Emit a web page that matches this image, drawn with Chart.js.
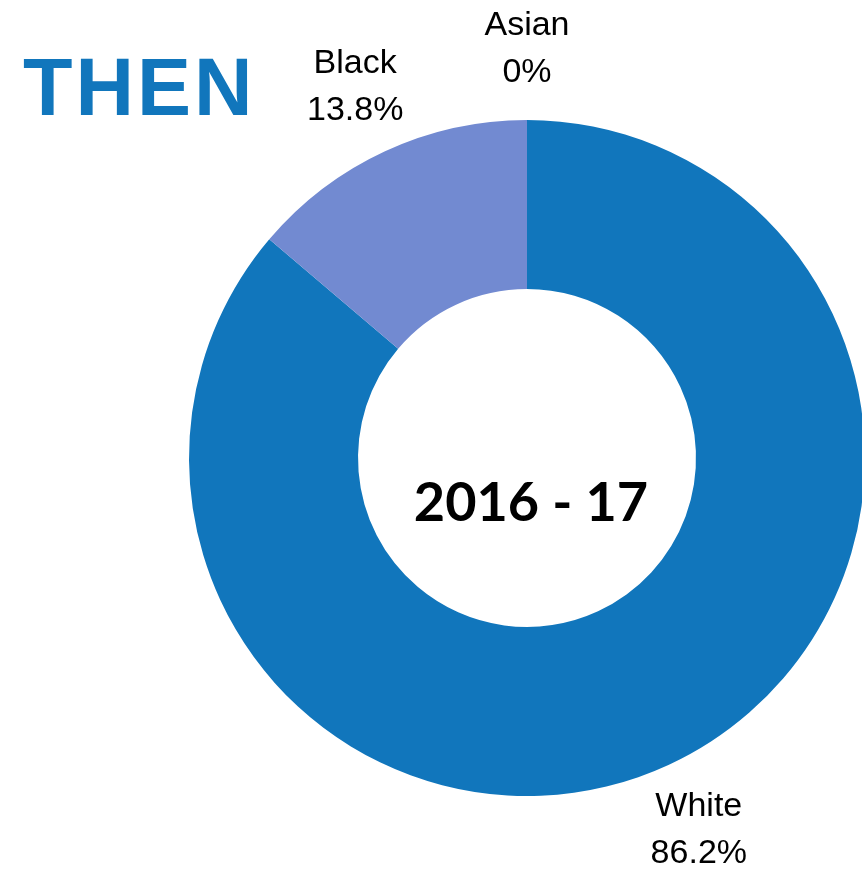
<!DOCTYPE html>
<html>
<head>
<meta charset="utf-8">
<script src="https://cdn.jsdelivr.net/npm/chart.js@4"></script>
<style>
    html, body { margin: 0; padding: 0; background: #fff; overflow: hidden; width: 862px; height: 872px; }
    #title {
        position: absolute; left: 23px; top: 41px;
        font-family: "Liberation Sans", Arial, sans-serif; font-weight: bold;
        font-size: 81px; color: #1176bc; letter-spacing: 3px;
    }
    canvas { position: absolute; left: 0; top: 0; }
</style>
</head>
<body>
<div id="title">THEN</div>
<canvas id="chart" width="1054" height="916"></canvas>
<script>
const categories = ['White', 'Black', 'Asian'];
const shares     = [86.2, 13.8, 0];
const pctLabels  = ['86.2%', '13.8%', '0%'];
const colors     = ['#1176bc', '#728ad1', '#a5a5a5'];
const centerText = '2016 - 17';

// Two-line labels sitting outside each slice (name + percent)
const outsideLabels = {
    id: 'outsideLabels',
    afterDatasetsDraw(chart) {
        const ctx = chart.ctx;
        const meta = chart.getDatasetMeta(0);
        ctx.save();
        ctx.fillStyle = '#000';
        ctx.font = '34px "Liberation Sans", Arial, sans-serif';
        ctx.textAlign = 'center';
        ctx.textBaseline = 'middle';
        meta.data.forEach((arc, i) => {
            const p = arc.getProps(['x', 'y', 'startAngle', 'endAngle', 'outerRadius'], true);
            const mid = (p.startAngle + p.endAngle) / 2;
            const r = p.outerRadius + 71;
            const cx = p.x + Math.cos(mid) * r;
            const cy = p.y + Math.sin(mid) * r;
            ctx.fillText(categories[i], cx, cy - 23);
            ctx.fillText(pctLabels[i], cx, cy + 24);
        });

        // year in the hole
        const a = meta.data[0];
        ctx.font = 'bold 54px Lato, "Noto Sans", sans-serif';
        ctx.fillText(centerText, a.x + 4, a.y + 46);
        ctx.restore();
    }
};

new Chart(document.getElementById('chart'), {
    type: 'doughnut',
    data: {
        labels: categories,
        datasets: [{
            data: shares,
            backgroundColor: colors,
            borderWidth: 0
        }]
    },
    options: {
        responsive: false,
        animation: false,
        cutout: '50%',
        layout: { padding: { left: 189, right: 189, top: 120, bottom: 120 } },
        plugins: {
            legend: { display: false },
            tooltip: { enabled: false }
        }
    },
    plugins: [outsideLabels]
});
</script>
</body>
</html>
